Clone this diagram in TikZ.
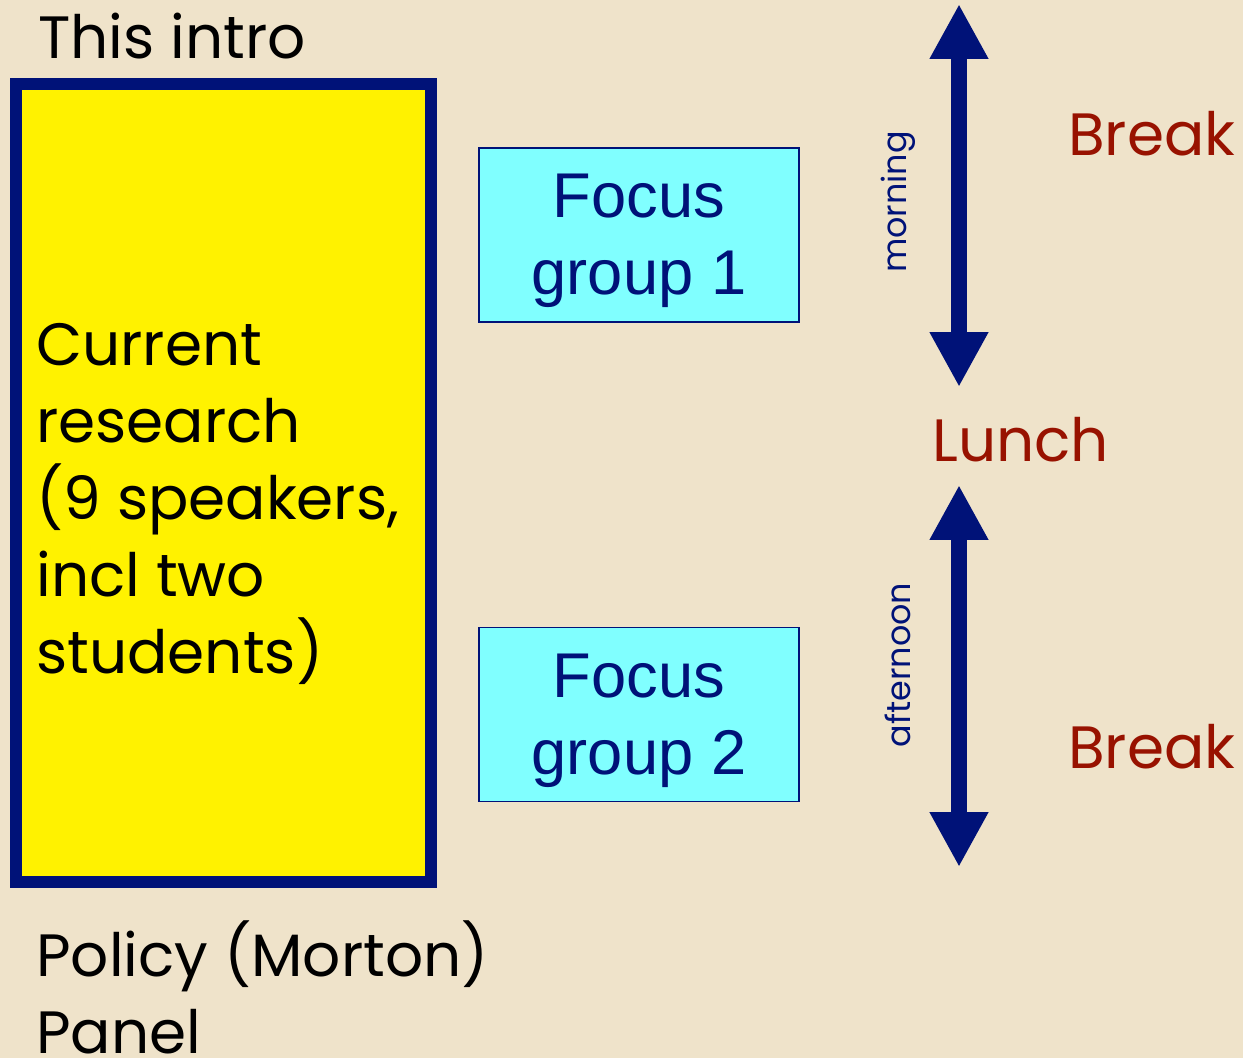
\documentclass[tikz,border=0pt]{standalone}
\usepackage{fontspec}
\setmainfont{Poppins}
\newfontfamily\arialfont{Liberation Sans}
\usetikzlibrary{arrows.meta}
\definecolor{parchment}{RGB}{239,227,202}
\definecolor{navy}{RGB}{0,18,120}
\definecolor{brick}{RGB}{152,18,0}
\definecolor{focuscyan}{RGB}{128,255,255}
\tikzset{
	comic/.style={font=\fontsize{34}{43.7}\selectfont, anchor=base west, inner sep=0pt, align=left},
	meal/.style={font=\fontsize{34}{43.7}\selectfont, text=brick, anchor=base west, inner sep=0pt},
	focusbox/.style={draw=navy, line width=1.1pt, fill=focuscyan, minimum width=6.4cm, minimum height=3.48cm},
	focustext/.style={text=navy, align=center, inner sep=0pt, font=\arialfont\fontsize{36}{43.7}\selectfont},
	timearrow/.style={navy, line width=0.32cm, {Triangle[width=1.1cm,length=1.1cm]}-{Triangle[width=1.1cm,length=1.1cm]}},
	daypart/.style={text=navy, rotate=90, font=\fontsize{19}{22}\selectfont, inner sep=0pt}
}
\begin{document}
\begin{tikzpicture}[x=0.02cm, y=-0.02cm]
	%%%%% START %%%%%
	
	\useasboundingbox (0, 0) rectangle (1243, 1058);
	\fill[parchment] (0, 0) rectangle (1243, 1058);
	
	\node[comic] (intro) at (38, 58) {This intro};
	
	\draw[navy, line width=0.24cm, fill=yellow] (16, 84) rectangle (431, 882);
	\node[comic] (research) at (36, 673) {Current\\research\\(9 speakers,\\incl two\\students)};
	
	\node[comic] (policy) at (36, 1053) {Policy (Morton)\\Panel};
	
	\node[focusbox] (focus1) at (639, 235) {};
	\node[focustext] (focus1text) at (639, 241) {Focus\\group 1};
	\node[focusbox] (focus2) at (639, 714.5) {};
	\node[focustext] (focus2text) at (639, 720.5) {Focus\\group 2};
	
	\coordinate (mtop) at (959, 4);
	\coordinate (mbot) at (959, 387);
	\coordinate (atop) at (959, 485);
	\coordinate (abot) at (959, 867);
	\draw[timearrow] (mtop) -- (mbot);
	\draw[timearrow] (atop) -- (abot);
	
	\node[daypart] (morning) at (898, 202) {morning};
	\node[daypart] (afternoon) at (898, 665) {afternoon};
	
	\node[meal] (break1) at (1068, 155) {Break};
	\node[meal] (lunch) at (932, 461) {Lunch};
	\node[meal] (break2) at (1068, 768) {Break};
	
	%%%%% END %%%%%
\end{tikzpicture}
\end{document}
